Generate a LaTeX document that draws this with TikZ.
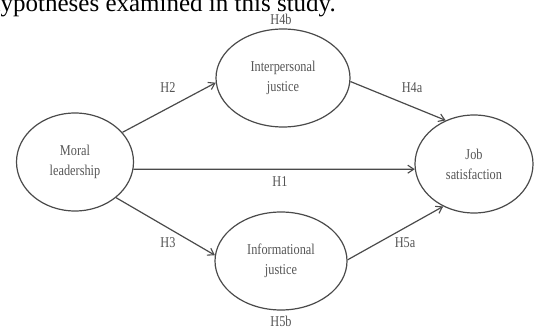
\documentclass[tikz,border=0pt]{standalone}
\usepackage{fontspec}
\setmainfont{Liberation Serif}
\newfontfamily\narrowserif[FakeStretch=0.82]{Liberation Serif}
\usetikzlibrary{shapes.geometric,arrows.meta}
\definecolor{linegray}{HTML}{4A4A4A}
\definecolor{textgray}{HTML}{555555}
\tikzset{
  construct/.style={ellipse, draw=linegray, line width=1.2pt, inner sep=0pt,
    align=center, text=textgray, font=\narrowserif\fontsize{15}{20}\selectfont},
  hyp/.style={text=textgray, font=\narrowserif\fontsize{15}{16}\selectfont, inner sep=0pt},
  arr/.style={draw=linegray, line width=1.2pt, -{Straight Barb[length=6pt,width=8pt,line width=1.1pt]}}
}
\begin{document}
\begin{tikzpicture}[x=1pt,y=-1pt]
\useasboundingbox (0,0) rectangle (537,328);
\node[anchor=base east, font=\fontsize{25}{28}\selectfont, inner sep=0pt] (cap) at (336,12) {hypotheses examined in this study.};
\node[construct, minimum width=117pt, minimum height=98pt] (m) at (75,162) {Moral\\leadership};
\node[construct, minimum width=134pt, minimum height=98pt] (i) at (283,78) {Interpersonal\\justice};
\node[construct, minimum width=118pt, minimum height=98pt] (j) at (474,164) {Job\\satisfaction};
\node[construct, minimum width=132pt, minimum height=98pt] (f) at (281,261) {Informational\\justice};
\draw[arr] (m.32) -- (i.184);
\draw[arr] (m.-7) -- (j.185);
\draw[arr] (m.-41) -- (f.175);
\draw[arr] (i.-3) -- (j.123);
\draw[arr] (f.1) -- (j.234);
\node[hyp] (h4b) at (281,19) {H4b};
\node[hyp] (h2) at (168,88) {H2};
\node[hyp] (h4a) at (412,88) {H4a};
\node[hyp] (h1) at (280,182) {H1};
\node[hyp] (h3) at (168,243) {H3};
\node[hyp] (h5a) at (405,243) {H5a};
\node[hyp] (h5b) at (281,321) {H5b};
\end{tikzpicture}
\end{document}
